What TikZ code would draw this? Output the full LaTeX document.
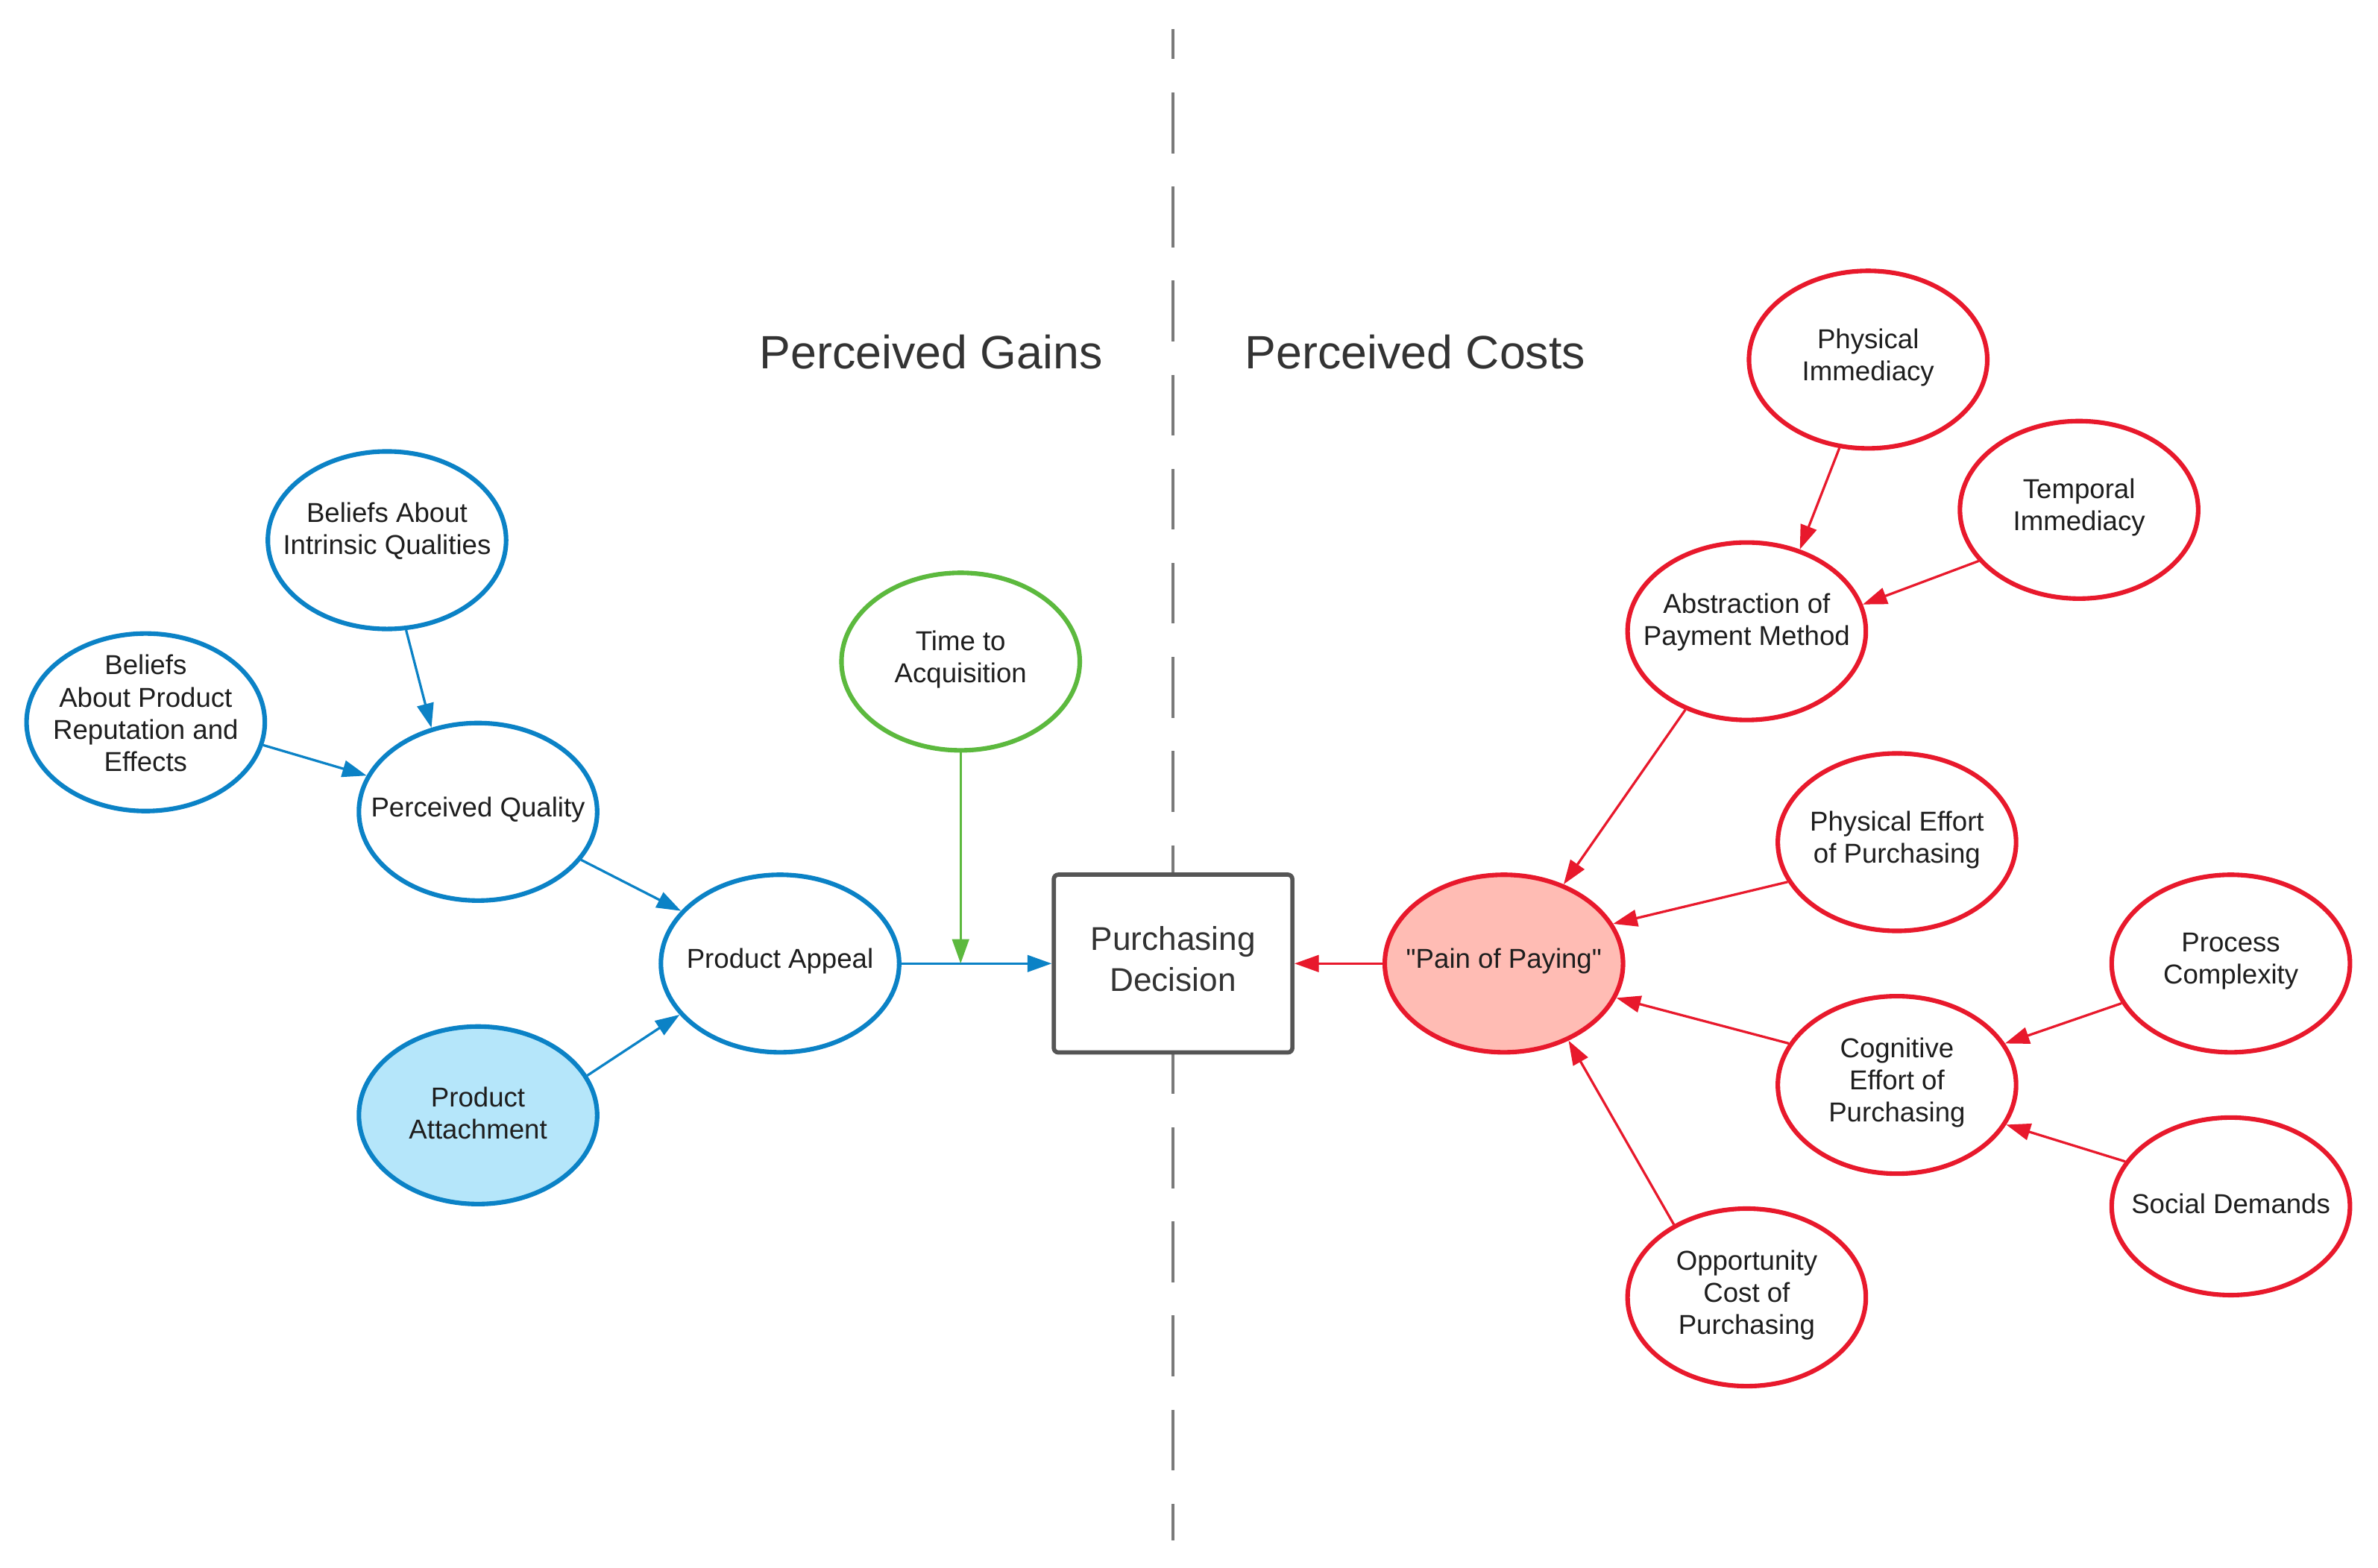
\documentclass[tikz,border=0pt]{standalone}
\usepackage{fontspec}
\setmainfont{Liberation Sans}[Ligatures=TeXOff]
\usetikzlibrary{shapes.geometric,arrows.meta}
\definecolor{cblue}{HTML}{0B82C6}
\definecolor{cbluefill}{HTML}{B5E6FA}
\definecolor{cred}{HTML}{E8192C}
\definecolor{credfill}{HTML}{FFBCB4}
\definecolor{cgreen}{HTML}{5CB93E}
\definecolor{cgray}{HTML}{555555}
\definecolor{cdash}{HTML}{7A7A7A}
\definecolor{ctext}{HTML}{1E1E1E}
\definecolor{ctitle}{HTML}{333333}
\tikzset{
  ell/.style={ellipse, line width=1.5pt, minimum width=78.5pt, minimum height=58.5pt, inner sep=0pt, fill=white},
  bl/.style={ell, draw=cblue},
  rd/.style={ell, draw=cred},
  gr/.style={ell, draw=cgreen},
  txt/.style={font=\fontsize{9}{10.6}\selectfont, align=center, text=ctext, inner sep=0pt, yshift=0.75pt},
  up/.style={yshift=2.25pt},
  arr/.style={-{Triangle[length=8pt,width=5.5pt]}, line width=0.8pt},
  ttl/.style={font=\fontsize{15.4}{18}\selectfont, text=ctitle, anchor=base, inner sep=0pt},
  decbox/.style={rectangle, rounded corners=1.5pt, draw=cgray, line width=1.4pt, fill=white,
    minimum width=78.6pt, minimum height=58.6pt, inner sep=0pt,
    font=\fontsize{10.85}{13.3}\selectfont, align=center, text=ctitle},
}
\begin{document}
\begin{tikzpicture}[x=0.5pt,y=-0.5pt]
\fill[white] (0,0) rectangle (1567,1033);
\useasboundingbox (0,0) rectangle (1567,1033);

% divider
\coordinate (dtop) at (773,19);
\coordinate (dbot) at (773,1015);
\draw[cdash, line width=1pt, dash pattern=on 20pt off 11pt, dash phase=10pt] (dtop) -- (dbot);

% titles
\node[ttl] (tgains) at (613.5,243) {Perceived Gains};
\node[ttl] (tcosts) at (932.6,243) {Perceived Costs};

% left side
\node[bl, label={[txt,up]center:Beliefs About\\Intrinsic Qualities}] (intr) at (255,356) {};
\node[bl, label={[txt,up]center:Beliefs\\About Product\\Reputation and\\Effects}] (rep) at (96,476) {};
\node[bl, label={[txt]center:Perceived Quality}] (pq) at (315,535) {};
\node[bl, label={[txt]center:Product Appeal}] (pa) at (514,635) {};
\node[bl, fill=cbluefill, label={[txt]center:Product\\Attachment}] (att) at (315,735) {};
\node[gr, label={[txt]center:Time to\\Acquisition}] (time) at (633,436) {};

% decision
\node[decbox, label={[font=\fontsize{10.85}{13.3}\selectfont, align=center, text=ctitle, inner sep=0pt, yshift=1.5pt]center:Purchasing\\Decision}] (dec) at (773,635) {};

% right side
\node[rd, fill=credfill, label={[txt]center:"Pain of Paying"}] (pain) at (991,635) {};
\node[rd, label={[txt]center:Physical\\Immediacy}] (phi) at (1231,237) {};
\node[rd, label={[txt]center:Temporal\\Immediacy}] (tem) at (1370,336) {};
\node[rd, label={[txt,up]center:Abstraction of\\Payment Method}] (abs) at (1151,416) {};
\node[rd, label={[txt]center:Physical Effort\\of Purchasing}] (phe) at (1250,555) {};
\node[rd, label={[txt]center:Process\\Complexity}] (proc) at (1470,635) {};
\node[rd, label={[txt]center:Cognitive\\Effort of\\Purchasing}] (cog) at (1250,715) {};
\node[rd, label={[txt]center:Social Demands}] (soc) at (1470,795) {};
\node[rd, label={[txt]center:Opportunity\\Cost of\\Purchasing}] (opp) at (1151,855) {};

% blue connectors
\draw[arr, cblue] (intr.-78) -- (pq.119);
\draw[arr, cblue] (rep.-11) -- (pq.162);
\draw[arr, cblue] (pq.-25) -- (pa.152);
\draw[arr, cblue] (att.20) -- (pa.207);
\draw[arr, cblue] (pa.east) -- (dec.west);
% green
\coordinate (tmeet) at (time.south |- pa.east);
\draw[arr, cgreen] (time.south) -- (tmeet);
% red connectors
\draw[arr, cred] (pain.west) -- (dec.east);
\draw[arr, cred] (phi.-108) -- (abs.57);
\draw[arr, cred] (tem.207) -- (abs.13);
\draw[arr, cred] (abs.-128) -- (pain.53);
\draw[arr, cred] (phe.200) -- (pain.20);
\draw[arr, cred] (cog.159) -- (pain.-17);
\draw[arr, cred] (proc.200) -- (cog.21);
\draw[arr, cred] (soc.157) -- (cog.-20);
\draw[arr, cred] (opp.135) -- (pain.-50);
\end{tikzpicture}
\end{document}
